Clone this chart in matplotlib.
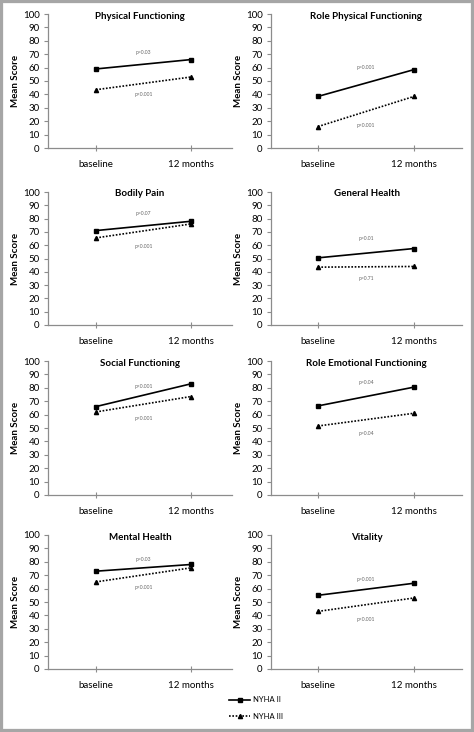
import matplotlib
matplotlib.use('Agg')
import matplotlib.pyplot as plt
from matplotlib.patches import Rectangle
from matplotlib.lines import Line2D

plt.rcParams['font.family'] = ['Lato', 'DejaVu Sans']

# data
categories = ['baseline', '12 months']
titles = ['Physical Functioning', 'Role Physical Functioning',
          'Bodily Pain', 'General Health',
          'Social Functioning', 'Role Emotional Functioning',
          'Mental Health', 'Vitality']
nyha2 = [[59, 66], [38.5, 58.5],
         [71, 78], [50.5, 57.5],
         [66, 83], [66.5, 80.5],
         [73, 78], [55, 64]]
nyha3 = [[43.5, 53], [16, 38.5],
         [65.5, 76], [43.5, 44],
         [62, 73.5], [51.5, 61],
         [65, 75.5], [43, 53]]
p_top = ['p=0.03', 'p=0.001', 'p=0.07', 'p=0.01',
         'p<0.001', 'p=0.04', 'p=0.03', 'p=0.001']
p_bottom = ['p<0.001', 'p<0.001', 'p<0.001', 'p=0.71',
            'p<0.001', 'p=0.04', 'p<0.001', 'p<0.001']
p_top_y = [71, 60, 84, 65, 81, 84, 82, 67]
p_bottom_y = [40, 17, 59, 35, 57, 46, 61, 37]

W, H = 474, 732
fig = plt.figure(figsize=(W / 100, H / 100), dpi=100)

# pixel geometry of the panels
row_y0 = [148, 325, 495, 669]
row_y100 = [14, 192, 361, 535]
col_left = [48, 271]
col_right = [232, 462]
col_xlim = [(-0.505, 1.43), (-0.49, 1.5)]

axis_grey = '#8c8c8c'
dotted = (0, (1, 1))
x = [0, 1]

for i, title in enumerate(titles):
    r, c = divmod(i, 2)
    left = col_left[c] / W
    width = (col_right[c] - col_left[c]) / W
    bottom = 1 - row_y0[r] / H
    height = (row_y0[r] - row_y100[r]) / H
    ax = fig.add_axes([left, bottom, width, height])

    ax.plot(x, nyha2[i], color='black', linewidth=1.2, marker='s',
            markersize=3, label='NYHA II')
    ax.plot(x, nyha3[i], color='black', linewidth=1.2, linestyle=dotted,
            marker='^', markersize=3, label='NYHA III')

    ax.text(0.5, p_top_y[i], p_top[i], fontsize=3.6, color='#666666',
            ha='center', va='center')
    ax.text(0.5, p_bottom_y[i], p_bottom[i], fontsize=3.6, color='#666666',
            ha='center', va='center')

    ax.set_xlim(*col_xlim[c])
    ax.set_ylim(0, 100)
    ax.set_yticks(range(0, 101, 10))
    ax.set_xticks(x)
    ax.set_xticklabels(categories)
    ax.tick_params(axis='y', labelsize=7, length=3, width=0.8,
                   color=axis_grey, pad=3)
    ax.tick_params(axis='x', labelsize=7, length=5, width=0.8,
                   color=axis_grey, direction='inout', pad=6)
    for side in ['top', 'right']:
        ax.spines[side].set_visible(False)
    for side in ['left', 'bottom']:
        ax.spines[side].set_color(axis_grey)
        ax.spines[side].set_linewidth(0.9)

    ax.set_title(title, fontsize=7, fontweight='bold', y=0.985, pad=0,
                 va='center')
    ax.set_ylabel('Mean Score', fontsize=7, fontweight='bold', labelpad=2)

# legend below the last row
handles = [Line2D([0], [0], color='black', linewidth=1.2, marker='s',
                  markersize=3),
           Line2D([0], [0], color='black', linewidth=1.2, linestyle=dotted,
                  marker='^', markersize=3)]
fig.legend(handles, ['NYHA II', 'NYHA III'], loc='center left',
           bbox_to_anchor=(222 / W, 1 - 708 / H), frameon=False,
           fontsize=5.5, handlelength=2.8, handletextpad=0.4,
           labelspacing=1.2)

# grey frame round the picture
fig.patches.append(Rectangle((0, 0), 1, 1, transform=fig.transFigure,
                             fill=False, edgecolor='#a6a6a6', linewidth=4.5))

fig.savefig('out.png', dpi=100)
